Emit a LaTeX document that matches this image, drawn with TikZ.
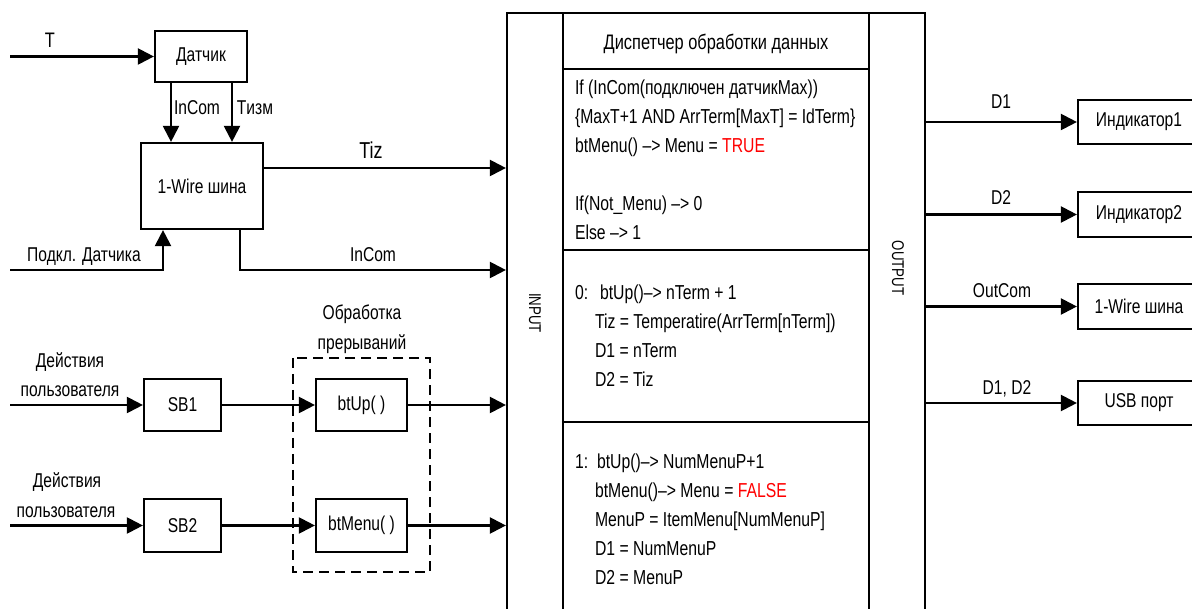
\documentclass[tikz,border=0pt]{standalone}
\usepackage{fontspec}
\setmainfont[FakeStretch=0.78]{Liberation Sans}
\usetikzlibrary{arrows.meta}
\newcommand{\lblfont}{\fontsize{20}{23}\selectfont}
\newcommand{\blkfont}{\fontsize{20.2}{24}\selectfont}
\newcommand{\ttlfont}{\fontsize{21}{24}\selectfont}
\newcommand{\rotfont}{\fontsize{17}{20}\selectfont}
\tikzset{
  arr/.style={-{Triangle[length=16pt,width=16pt]}},
  box/.style={draw, rectangle, inner sep=0pt, font=\lblfont},
  lbl/.style={inner sep=0pt, anchor=base, font=\lblfont},
  txt/.style={inner sep=0pt, anchor=base west, font=\blkfont},
  col/.style={draw, rectangle, inner sep=0pt, minimum width=56pt, minimum height=607pt},
}
\begin{document}
\begin{tikzpicture}[x=1pt, y=-1pt, line width=2.2pt, line join=miter]
\clip (0,0) rectangle (1192,609);
\fill[white] (0,0) rectangle (1192,609);

% main block
\node[col] (input) at (535,316.5) {};
\node[draw, rectangle, inner sep=0pt, minimum width=306pt, minimum height=607pt] (disp) at (716,316.5) {};
\node[col] (output) at (897,316.5) {};
\node[inner sep=0pt, rotate=-90, font=\rotfont] (inlbl) at (535,313) {INPUT};
\node[inner sep=0pt, rotate=-90, font=\rotfont] (outlbl) at (898,268) {OUTPUT};
\draw (disp.west |- 0,69) -- (disp.east |- 0,69);
\draw (disp.west |- 0,250) -- (disp.east |- 0,250);
\draw (disp.west |- 0,422) -- (disp.east |- 0,422);

\node[inner sep=0pt, anchor=base, font=\ttlfont] (title) at (716,50) {Диспетчер обработки данных};
\node[txt] (a1) at (574,95) {If (InCom(подключен датчикMax))};
\node[txt] (a2) at (574,124) {\{MaxT+1 AND ArrTerm[MaxT] = IdTerm\}};
\node[txt] (a3) at (574,153) {btMenu() \textendash> Menu = \textcolor{red}{TRUE}};
\node[txt] (a4) at (574,211) {If(Not\_Menu) \textendash> 0};
\node[txt] (a5) at (574,240) {Else \textendash> 1};

\node[txt] (b0) at (574,300) {0:};
\node[txt] (b1) at (599,300) {btUp()\textendash> nTerm + 1};
\node[txt] (b2) at (594,329) {Tiz = Temperatire(ArrTerm[nTerm])};
\node[txt] (b3) at (594,358) {D1 = nTerm};
\node[txt] (b4) at (594,387) {D2 = Tiz};

\node[txt] (c0) at (574,468) {1:};
\node[txt] (c1) at (596,468) {btUp()\textendash> NumMenuP+1};
\node[txt] (c2) at (594,497) {btMenu()\textendash> Menu = \textcolor{red}{FALSE}};
\node[txt] (c3) at (594,526) {MenuP = ItemMenu[NumMenuP]};
\node[txt] (c4) at (594,555) {D1 = NumMenuP};
\node[txt] (c5) at (594,584) {D2 = MenuP};

% left upper part
\node[box, minimum width=92pt, minimum height=51pt] (dat) at (201,56.5) {Датчик};
\node[box, minimum width=122pt, minimum height=86pt] (wire) at (202,186) {1-Wire шина};
\coordinate (tin) at (10,56.5);
\draw[arr] (tin) -- (dat.west);
\node[lbl, font=\ttlfont] (tl) at (50,48) {T};
\draw[arr] ([xshift=-30pt]dat.south) -- ([xshift=-30pt]dat.south |- wire.north);
\draw[arr] ([xshift=31pt]dat.south) -- ([xshift=31pt]dat.south |- wire.north);
\node[lbl] (incl) at (197,115) {InCom};
\node[lbl] (tizm) at (255,115) {Tизм};
\coordinate (pin) at (10,270);
\draw[arr] (pin) -| ([xshift=-39pt]wire.south);
\node[lbl] (podl) at (84,262) {Подкл. Датчика};
\draw[arr] ([xshift=38pt]wire.south) |- (input.west |- pin);
\node[lbl] (incom2) at (373,262) {InCom};
\path ([yshift=18pt]wire.east) coordinate (tz);
\draw[arr] (tz) -- (tz -| input.west);
\node[lbl, font=\fontsize{23}{26}\selectfont] (tizl) at (371,159) {Tiz};

% left lower part
\node[box, minimum width=77pt, minimum height=52pt] (sb1) at (182.5,405) {SB1};
\node[box, minimum width=77pt, minimum height=53pt] (sb2) at (182.5,525.5) {SB2};
\node[box, minimum width=91pt, minimum height=52pt] (btup) at (361.5,405) {btUp( )};
\node[box, minimum width=91pt, minimum height=53pt] (btmenu) at (361.5,525.5) {btMenu( )};
\draw[dash pattern=on 10pt off 6pt] (293,358) rectangle (430,572);
\node[lbl] (obr1) at (362,320) {Обработка};
\node[lbl] (obr2) at (362,350) {прерываний};
\coordinate (u1) at (10,405);
\coordinate (u2) at (10,525.5);
\draw[arr] (u1) -- (sb1);
\draw[arr] (u2) -- (sb2);
\draw[arr] (sb1) -- (btup);
\draw[arr] (sb2) -- (btmenu);
\draw[arr] (btup) -- (btup -| input.west);
\draw[arr] (btmenu) -- (btmenu -| input.west);
\node[lbl] (d1a) at (70,368) {Действия};
\node[lbl] (d1b) at (70,397) {пользователя};
\node[lbl] (d2a) at (67,487) {Действия};
\node[lbl] (d2b) at (66,517) {пользователя};

% right part
\node[box, minimum width=122pt, minimum height=44pt] (ind1) at (1139,122) {Индикатор1};
\node[box, minimum width=122pt, minimum height=45pt] (ind2) at (1139,214.5) {Индикатор2};
\node[box, minimum width=122pt, minimum height=45pt] (ow) at (1139,306.5) {1-Wire шина};
\node[box, minimum width=122pt, minimum height=44pt] (usb) at (1139,403) {USB порт};
\draw[arr] (ind1 -| output.east) -- (ind1);
\draw[arr] (ind2 -| output.east) -- (ind2);
\draw[arr] (ow -| output.east) -- (ow);
\draw[arr] (usb -| output.east) -- (usb);
\node[lbl] (ld1) at (1001,109) {D1};
\node[lbl] (ld2) at (1001,205) {D2};
\node[lbl] (lout) at (1002,298) {OutCom};
\node[lbl] (ld12) at (1007,395) {D1, D2};
\end{tikzpicture}
\end{document}
